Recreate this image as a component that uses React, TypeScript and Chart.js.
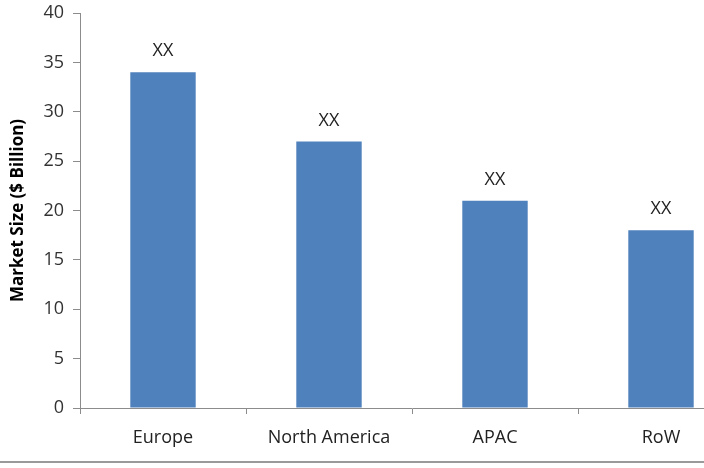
import React, { useEffect, useRef } from "react";
import { Chart, registerables } from "chart.js";

Chart.register(...registerables);

const categories = ["Europe", "North America", "APAC", "RoW"];
const values = [34, 27, 21, 18];
const valueLabels = ["XX", "XX", "XX", "XX"];
const yTitle = "Market Size ($ Billion)";

const FONT = "'Open Sans', 'Liberation Sans', Arial, sans-serif";

const barLabels = {
  id: "barLabels",
  afterDatasetsDraw(chart: any) {
    const ctx = chart.ctx;
    const meta = chart.getDatasetMeta(0);
    ctx.save();
    ctx.font = `18px ${FONT}`;
    ctx.fillStyle = "#222";
    ctx.textAlign = "center";
    ctx.textBaseline = "middle";
    meta.data.forEach((el: any, i: number) => {
      ctx.fillText(valueLabels[i], el.x, el.y - 21);
    });
    ctx.restore();
  },
};

export default function App() {
  const ref = useRef<HTMLCanvasElement>(null);
  useEffect(() => {
    if (!ref.current) return;
    const chart = new Chart(ref.current, {
      type: "bar",
      data: {
        labels: categories,
        datasets: [
          {
            data: values,
            backgroundColor: "#4F81BD",
            borderWidth: 0,
            categoryPercentage: 1,
            barPercentage: 0.394,
          },
        ],
      },
      options: {
        animation: false,
        responsive: false,
        maintainAspectRatio: false,
        layout: { padding: { top: 13, left: 0, right: 0, bottom: 0 } },
        plugins: { legend: { display: false }, tooltip: { enabled: false } },
        scales: {
          x: {
            grid: {
              offset: true,
              drawOnChartArea: false,
              drawTicks: true,
              tickLength: 6,
              color: "#8c8c8c",
            },
            border: { color: "#8c8c8c", width: 1 },
            ticks: {
              color: "#222",
              font: { family: FONT, size: 18 },
              padding: 13,
              maxRotation: 0,
              autoSkip: false,
            },
            afterFit(scale: any) {
              scale.height = 60;
              scale.paddingLeft = 0;
              scale.paddingRight = 0;
            },
          },
          y: {
            min: 0,
            max: 40,
            grid: {
              drawOnChartArea: false,
              drawTicks: true,
              tickLength: 7,
              color: "#8c8c8c",
            },
            border: { color: "#8c8c8c", width: 1 },
            ticks: {
              stepSize: 5,
              color: "#333",
              font: { family: FONT, size: 18 },
              padding: 9,
            },
            title: {
              display: true,
              text: yTitle,
              color: "#000",
              font: { family: FONT, size: 17, weight: "bold" },
              padding: { top: 8, bottom: 4 },
            },
            afterFit(scale: any) {
              scale.width = 80;
              scale.paddingTop = 0;
              scale.paddingBottom = 0;
            },
          },
        },
      },
      plugins: [barLabels],
    });
    return () => chart.destroy();
  }, []);
  return (
    <div
      style={{
        position: "fixed",
        left: 0,
        top: 0,
        width: 704,
        height: 468,
        overflow: "hidden",
        background: "#fff",
      }}
    >
      <canvas ref={ref} width={744} height={468} style={{ display: "block" }} />
      <div
        style={{
          position: "absolute",
          left: 0,
          top: 461,
          width: 704,
          height: 2,
          background: "#9a9a9a",
        }}
      />
    </div>
  );
}
